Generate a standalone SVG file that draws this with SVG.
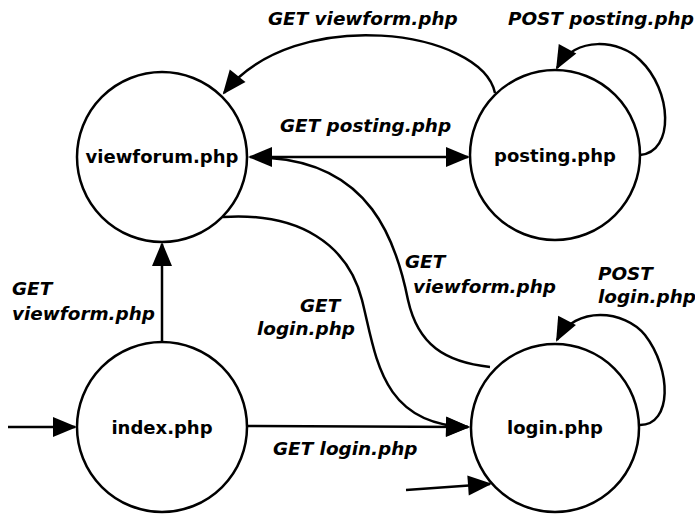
<svg xmlns="http://www.w3.org/2000/svg" width="695" height="515" viewBox="0 0 695 515">
<style>
.n{fill:#fff;stroke:#000;stroke-width:2.5}
.e{fill:none;stroke:#000;stroke-width:2.5;marker-end:url(#a)}
.t{font-family:"DejaVu Sans",sans-serif;font-weight:bold;font-size:18px;text-anchor:middle}
.l{font-family:"DejaVu Sans",sans-serif;font-weight:bold;font-style:italic;font-size:18.4px}
</style>
<defs>
<marker id="a" viewBox="0 0 24 20" refX="22" refY="10" markerWidth="24" markerHeight="20" markerUnits="userSpaceOnUse" orient="auto-start-reverse" overflow="visible">
<path d="M0,0 L24,10 L0,20 Z" fill="#000"/>
</marker>
</defs>
<rect width="695" height="515" fill="#fff"/>
<g id="connectors">
<path class="e" d="M8,427 L75,427"/>
<path class="e" d="M162,342 L162,244"/>
<path class="e" d="M247,426 L468,427"/>
<path class="e" d="M406,490 L490,484"/>
<path class="e" d="M250,157 L468,157" style="marker-start:url(#a)"/>
<path class="e" d="M495,93 C482,30 295,3 224,93"/>
<path class="e" d="M640,155 C675,152 672,90 640,60 C620,40 575,35 557,68"/>
<path class="e" d="M640,425 C672,425 672,370 645,335 C625,310 575,305 557,340"/>
<path class="e" d="M223,217 C300,212 348,245 362,300 C376,355 380,425 468,427"/>
<path d="M490,367 C445,362 418,345 408,300 C396,240 370,165 270,158" fill="none" stroke="#000" stroke-width="2.5"/>
</g>
<g id="viewforum"><circle class="n" cx="162" cy="157" r="85"/><text class="t" x="162" y="163">viewforum.php</text></g>
<g id="posting"><circle class="n" cx="555" cy="155" r="85"/><text class="t" x="555" y="162">posting.php</text></g>
<g id="index"><circle class="n" cx="162" cy="427" r="85"/><text class="t" x="162" y="434">index.php</text></g>
<g id="login"><circle class="n" cx="555" cy="428" r="84"/><text class="t" x="555" y="434">login.php</text></g>
<g id="labels">
<text class="l" x="268" y="25">GET viewform.php</text>
<text class="l" x="508" y="25">POST posting.php</text>
<text class="l" x="280" y="132">GET posting.php</text>
<text class="l" x="12" y="295">GET</text>
<text class="l" x="12" y="320">viewform.php</text>
<text class="l" x="300" y="312">GET</text>
<text class="l" x="257" y="335">login.php</text>
<text class="l" x="405" y="268">GET</text>
<text class="l" x="413" y="293">viewform.php</text>
<text class="l" x="598" y="280">POST</text>
<text class="l" x="598" y="303">login.php</text>
<text class="l" x="273" y="455">GET login.php</text>
</g>
</svg>
